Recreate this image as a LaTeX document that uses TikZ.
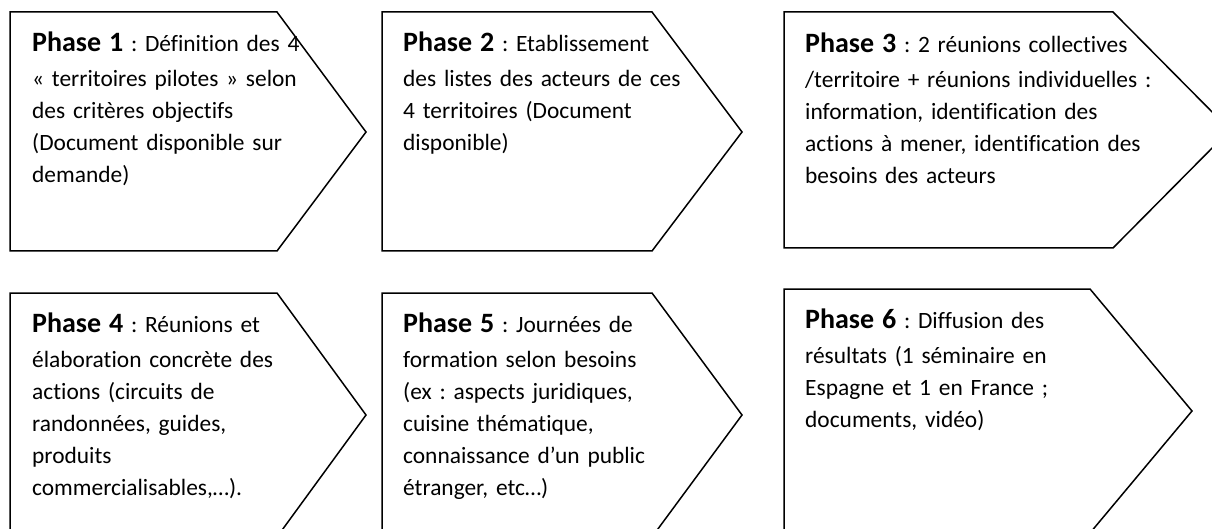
\documentclass[tikz,border=0pt]{standalone}
\usepackage{fontspec}
\setmainfont{Carlito}[Ligatures=NoCommon]
\frenchspacing
% bold heading of each phase
\newcommand\phaselabel[1]{{\fontsize{28}{32}\selectfont\bfseries Phase #1}}
\begin{document}
\begin{tikzpicture}[x=1pt,y=-1pt,
  phasebox/.style={draw=black, line width=1.5pt, line join=miter},
  phasetext/.style={anchor=base west, inner sep=0pt, text width=360pt,
    align=left, font=\fontsize{23.4}{32}\selectfont}]
\useasboundingbox (0,0) rectangle (1212,529);
\clip (0,0) rectangle (1212,529);

% arrow-shaped boxes, top row
\draw[phasebox] (10,12) -- (277,12) -- (366,132) -- (277,251) -- (10,251) -- cycle;
\draw[phasebox] (382,12) -- (652,12) -- (742,132) -- (652,251) -- (382,251) -- cycle;
\draw[phasebox] (784,12) -- (1113,12) -- (1230,130) -- (1113,248) -- (784,248) -- cycle;

% arrow-shaped boxes, bottom row
\draw[phasebox] (10,293) -- (277,293) -- (366,415) -- (277,537) -- (10,537) -- cycle;
\draw[phasebox] (382,293) -- (652,293) -- (742,415) -- (652,537) -- (382,537) -- cycle;
\draw[phasebox] (784,289) -- (1090,289) -- (1192,411) -- (1090,533) -- (784,533) -- cycle;

% texts
\node[phasetext] (p1) at (32,52) {\phaselabel{1} : Définition des 4\\[3pt]
« territoires pilotes » selon\\
des critères objectifs\\
(Document disponible sur\\
demande)};

\node[phasetext] (p2) at (403,52) {\phaselabel{2} : Etablissement\\[3pt]
des listes des acteurs de ces\\
4 territoires (Document\\
disponible)};

\node[phasetext] (p3) at (805,53) {\phaselabel{3} : 2 réunions collectives\\[3pt]
/territoire + réunions individuelles :\\
information, identification des\\
actions à mener, identification des\\
besoins des acteurs};

\node[phasetext] (p4) at (32,332) {\phaselabel{4} : Réunions et\\[3pt]
élaboration concrète des\\
actions (circuits de\\
randonnées, guides,\\
produits\\
commercialisables,…).};

\node[phasetext] (p5) at (403,332) {\phaselabel{5} : Journées de\\[3pt]
formation selon besoins\\
(ex : aspects juridiques,\\
cuisine thématique,\\
connaissance d’un public\\
étranger, etc…)};

\node[phasetext] (p6) at (805,328) {\phaselabel{6} : Diffusion des\\[3pt]
résultats (1 séminaire en\\
Espagne et 1 en France ;\\
documents, vidéo)};
\end{tikzpicture}
\end{document}
